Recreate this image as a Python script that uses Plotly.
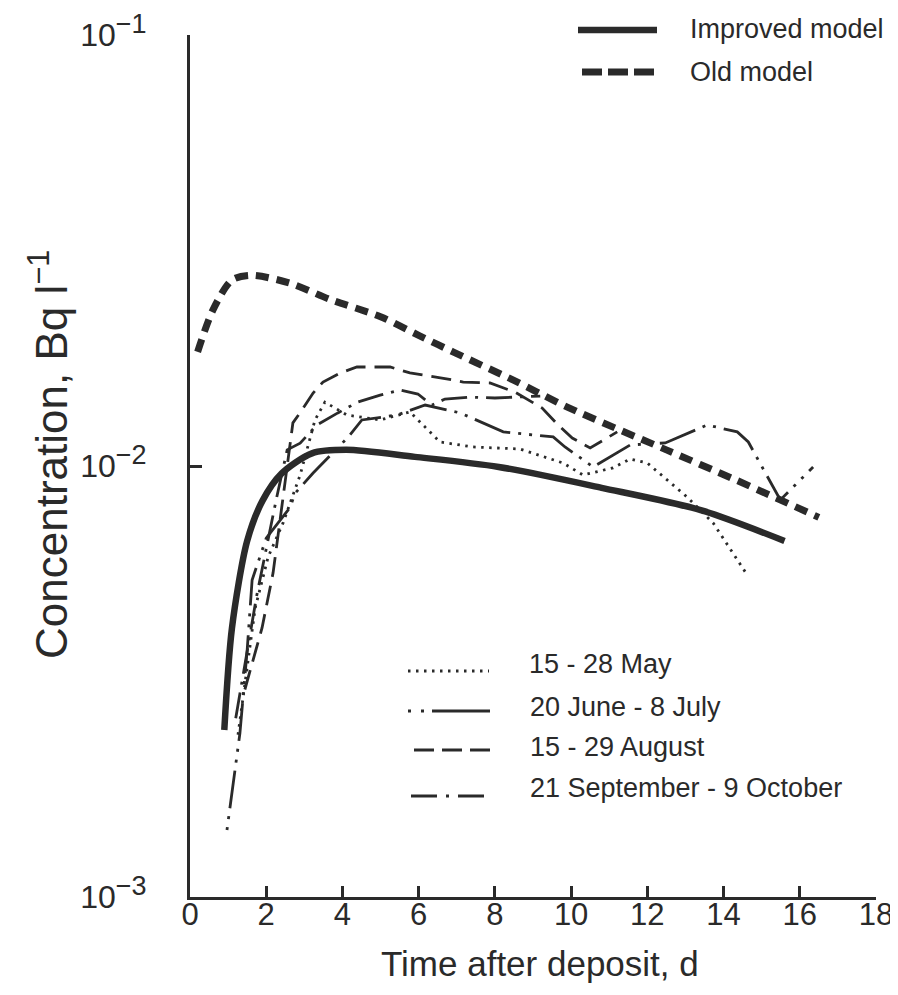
import plotly.graph_objects as go

# ---------------- data ----------------
old_x = [0.2, 0.6, 1.1, 1.6, 2.6, 3.7, 5.0, 6.0, 6.9, 8.5, 9.9, 12.5, 14.3, 16.5]
old_y = [0.0184, 0.0230, 0.0270, 0.0277, 0.0266, 0.0243, 0.0222, 0.0201, 0.0184,
         0.0158, 0.0137, 0.0109, 0.0093, 0.0076]

improved_x = [0.9, 1.1, 1.5, 1.9, 2.4, 3.2, 4.1, 5.9, 8.1, 10.8, 13.4, 15.6]
improved_y = [0.00244, 0.0042, 0.0067, 0.0083, 0.0096, 0.0107, 0.0109, 0.0105,
              0.00995, 0.0089, 0.0079, 0.0067]

may_x = [1.26, 1.71, 2.05, 2.44, 2.89, 3.28, 3.54, 4.12, 4.99, 5.77, 6.56, 7.43,
         8.66, 9.79, 10.31, 11.10, 11.55, 12.0, 13.04, 13.73, 14.62]
may_y = [0.00238, 0.00468, 0.00615, 0.00737, 0.00953, 0.01279, 0.01407, 0.01313,
         0.01279, 0.01335, 0.01137, 0.01107, 0.01095, 0.01016, 0.00953, 0.00990,
         0.01038, 0.01016, 0.00848, 0.00737, 0.00559]

junejuly_x = [0.97, 1.31, 1.50, 1.63, 2.0, 2.62, 2.76, 3.23, 4.15, 4.51, 5.43, 6.17,
              7.09, 8.22, 9.53, 9.84, 10.58, 10.84, 11.55, 12.47, 13.57, 14.36,
              14.65, 15.49, 16.35]
junejuly_y = [0.00143, 0.0024, 0.00374, 0.00544, 0.0068, 0.0080, 0.00865, 0.00963,
              0.01167, 0.01279, 0.01313, 0.01385, 0.01328, 0.01200, 0.01168, 0.01107,
              0.00995, 0.01027, 0.01119, 0.01131, 0.01245, 0.01200, 0.01137, 0.00834,
              0.00995]

august_x = [1.44, 1.89, 2.18, 2.44, 2.70, 2.94, 3.23, 3.49, 3.94, 4.38, 5.25, 5.77,
            6.12, 6.61, 7.17, 7.87, 8.53, 9.24, 9.66, 10.03, 10.50, 11.21]
august_y = [0.00303, 0.00421, 0.00565, 0.00834, 0.01259, 0.01349, 0.01477, 0.01566,
            0.01644, 0.01697, 0.01697, 0.01644, 0.01626, 0.01600, 0.01566, 0.01558,
            0.01484, 0.01363, 0.01245, 0.01161, 0.01101, 0.01200]

sepoct_x = [1.20, 1.75, 2.28, 2.55, 2.89, 3.33, 3.88, 4.41, 4.99, 5.51, 5.98, 6.35,
            6.69, 7.35, 8.0, 8.79, 9.19]
sepoct_y = [0.0026, 0.0050, 0.0085, 0.0109, 0.0113, 0.01245, 0.01328, 0.01408,
            0.01461, 0.0150, 0.01469, 0.01385, 0.0143, 0.01445, 0.01438, 0.01445,
            0.01453]

model_names = ["Improved model", "Old model"]
field_names = ["15 - 28 May", "20 June - 8 July", "15 - 29 August",
               "21 September - 9 October"]

x_ticks = [0, 2, 4, 6, 8, 10, 12, 14, 16, 18]
y_ticks = [0.001, 0.01, 0.1]
y_exponents = ["\u22123", "\u22122", "\u22121"]

x_title = "Time after deposit, d"
y_title = "Concentration, Bq l<sup>\u22121</sup>"

# ---------------- styles ----------------
INK = "#2a2a2a"
FONT = "Liberation Sans, Arial, Helvetica, sans-serif"

styles = {
    "Improved model": dict(width=6.5, dash="solid"),
    "Old model": dict(width=7, dash="13px,8px"),
    "15 - 28 May": dict(width=2.8, dash="2.5px,5.5px"),
    "20 June - 8 July": dict(width=2.8, dash="3px,8px,3px,8px,38px,8px"),
    "15 - 29 August": dict(width=2.8, dash="20px,9px"),
    "21 September - 9 October": dict(width=2.8, dash="26px,8px,3px,8px"),
}
legend_dash = {
    "Improved model": "solid",
    "Old model": "20px,6px",
    "15 - 28 May": "2.5px,5.5px",
    "20 June - 8 July": "3px,10px,3px,8px,60px,4px",
    "15 - 29 August": "20px,8px",
    "21 September - 9 October": "26px,9px,3px,9px",
}

y_ticktext = ["10<sup><span style='font-size:27px'>%s</span></sup>" % e for e in y_exponents]

fig = go.Figure()

series = [
    ("Old model", old_x, old_y, "spline"),
    ("Improved model", improved_x, improved_y, "spline"),
    ("15 - 28 May", may_x, may_y, "linear"),
    ("20 June - 8 July", junejuly_x, junejuly_y, "linear"),
    ("15 - 29 August", august_x, august_y, "linear"),
    ("21 September - 9 October", sepoct_x, sepoct_y, "linear"),
]
for name, xs, ys, shape in series:
    st = styles[name]
    fig.add_trace(go.Scatter(
        x=xs, y=ys, mode="lines", name=name, showlegend=False,
        line=dict(color=INK, width=st["width"], dash=st["dash"], shape=shape,
                  smoothing=0.8 if shape == "spline" else None),
    ))

# ---------------- layout geometry (page body has an 8px margin) ----------------
OFF = 8
W, H = 898 - OFF, 995 - OFF
L, R, T, B = 190 - OFF, 22, 35 - OFF, 98
pw, ph = W - L - R, H - T - B


def px2paper(px, py):
    # px, py measured on the reference picture
    return (px - OFF - L) / pw, (H - B - (py - OFF)) / ph


model_rows = [
    ("Improved model", 578, 657, 30, 29),
    ("Old model", 582, 657, 72, 72),
]
field_rows = [
    ("15 - 28 May", 408, 489, 671, 664),
    ("20 June - 8 July", 408, 490, 711, 707),
    ("15 - 29 August", 414, 490, 750, 747),
    ("21 September - 9 October", 411, 490, 796, 788),
]

for name, x0, x1, ly, ty in model_rows + field_rows:
    a0, b0 = px2paper(x0, ly)
    a1, _ = px2paper(x1, ly)
    lw = styles[name]["width"]
    fig.add_shape(type="line", xref="paper", yref="paper", x0=a0, x1=a1, y0=b0, y1=b0,
                  line=dict(color=INK, width=lw, dash=legend_dash[name]))
    tx, tyy = px2paper(x1 + (31 if name in model_names else 38), ty)
    fig.add_annotation(xref="paper", yref="paper", x=tx, y=tyy, text=name,
                       showarrow=False, xanchor="left", yanchor="middle",
                       font=dict(family=FONT, size=27, color=INK))

# axis titles placed as text in the margins
xt_x, xt_y = px2paper(540, 963)
fig.add_annotation(xref="paper", yref="paper", x=xt_x, y=xt_y, text=x_title,
                   showarrow=False, xanchor="center", yanchor="middle",
                   font=dict(family=FONT, size=35, color=INK))
yt_x, yt_y = px2paper(48, 455)
fig.add_annotation(xref="paper", yref="paper", x=yt_x, y=yt_y, text=y_title,
                   textangle=-90, showarrow=False, xanchor="center", yanchor="middle",
                   font=dict(family=FONT, size=44, color=INK))

fig.update_layout(
    width=W, height=H,
    margin=dict(l=L, r=R, t=T, b=B, autoexpand=False),
    paper_bgcolor="white", plot_bgcolor="white",
    showlegend=False,
    font=dict(family=FONT, color=INK),
)
fig.update_xaxes(
    range=[0, 18], tickvals=x_ticks, ticktext=[str(v) for v in x_ticks],
    ticks="inside", ticklen=11, tickwidth=2.5, tickcolor=INK,
    showline=True, linewidth=3, linecolor=INK, showgrid=False, zeroline=False,
    automargin=False,
    tickfont=dict(family=FONT, size=31, color=INK),
    ticklabelstandoff=-12,
)
fig.update_yaxes(
    type="log", range=[-3, -1], tickvals=y_ticks, ticktext=y_ticktext,
    ticks="inside", ticklen=12, tickwidth=2.5, tickcolor=INK,
    showline=True, linewidth=3, linecolor=INK, showgrid=False, zeroline=False,
    automargin=False,
    tickfont=dict(family=FONT, size=32, color=INK),
    ticklabelstandoff=34,
)

fig.write_html("out.html")
